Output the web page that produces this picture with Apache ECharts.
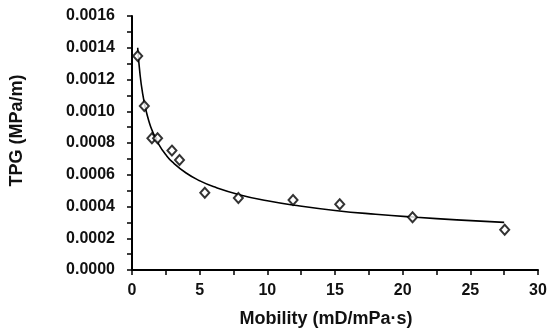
<!DOCTYPE html>
<html><head><meta charset="utf-8">
<script src="https://cdn.jsdelivr.net/npm/echarts@6/dist/echarts.min.js"></script>
<style>html,body{margin:0;padding:0;background:#fff}#c{width:550px;height:336px}</style>
</head><body><div id="c"></div>
<script>
var mobility = [0.42, 0.91, 1.47, 1.89, 2.95, 3.51, 5.38, 7.86, 11.9, 15.35, 20.73, 27.54];
var tpg = [0.001348, 0.001033, 0.000830, 0.000830, 0.000752, 0.000693, 0.000487, 0.000454, 0.000441, 0.000414, 0.000332, 0.000254];
var trendX = [0.42, 0.6, 0.8, 1, 1.25, 1.5, 2, 2.5, 3, 4, 5, 6, 8, 10, 12, 15, 18, 21, 24, 27.5];
var trendY = [0.00140, 0.001227, 0.001104, 0.001017, 0.000937, 0.000876, 0.000788, 0.000726, 0.000679, 0.000611, 0.000562, 0.000526, 0.000473, 0.000436, 0.000408, 0.000375, 0.000351, 0.000332, 0.000316, 0.000300];
var xName = 'Mobility (mD/mPa·s)';
var yName = 'TPG (MPa/m)';

var pts = mobility.map(function(x,i){return [x, tpg[i]];});
var trend = trendX.map(function(x,i){return [x, trendY[i]];});
var font = 'Liberation Sans, Arial, sans-serif';
var chart = echarts.init(document.getElementById('c'));
chart.setOption({
  animation:false,
  grid:{left:131,right:12,top:16,bottom:66},
  xAxis:{type:'value',min:0,max:30,interval:5,
    name:xName,nameLocation:'middle',nameGap:40,
    nameTextStyle:{fontFamily:font,fontWeight:'bold',fontSize:18,color:'#111',padding:[0,18,0,0]},
    axisLine:{lineStyle:{color:'#000',width:2}},
    axisTick:{show:true,inside:false,length:5,lineStyle:{color:'#000',width:1.5}},
    minorTick:{show:true,splitNumber:2,length:5,lineStyle:{color:'#000',width:1.5}},
    splitLine:{show:false},
    axisLabel:{fontFamily:font,fontWeight:'bold',fontSize:16,color:'#111',margin:13}
  },
  yAxis:{type:'value',min:0,max:0.0016,interval:0.0002,
    name:yName,nameLocation:'middle',nameGap:106,
    nameTextStyle:{fontFamily:font,fontWeight:'bold',fontSize:18,color:'#111',padding:[0,0,0,25]},
    axisLine:{show:true,lineStyle:{color:'#000',width:2}},
    axisTick:{show:true,inside:false,length:5,lineStyle:{color:'#000',width:1.5}},
    minorTick:{show:true,splitNumber:2,length:5,lineStyle:{color:'#000',width:1.5}},
    splitLine:{show:false},
    axisLabel:{fontFamily:font,fontWeight:'bold',fontSize:16,color:'#111',margin:17,
      formatter:function(v){return v.toFixed(4);}}
  },
  series:[
    {type:'line',data:trend,smooth:true,showSymbol:false,lineStyle:{color:'#000',width:1.6},z:2},
    {type:'scatter',data:pts,symbol:'diamond',symbolSize:[9,10],
      itemStyle:{color:'#fff',borderColor:'#000',borderWidth:2},z:3}
  ]
});
</script></body></html>
